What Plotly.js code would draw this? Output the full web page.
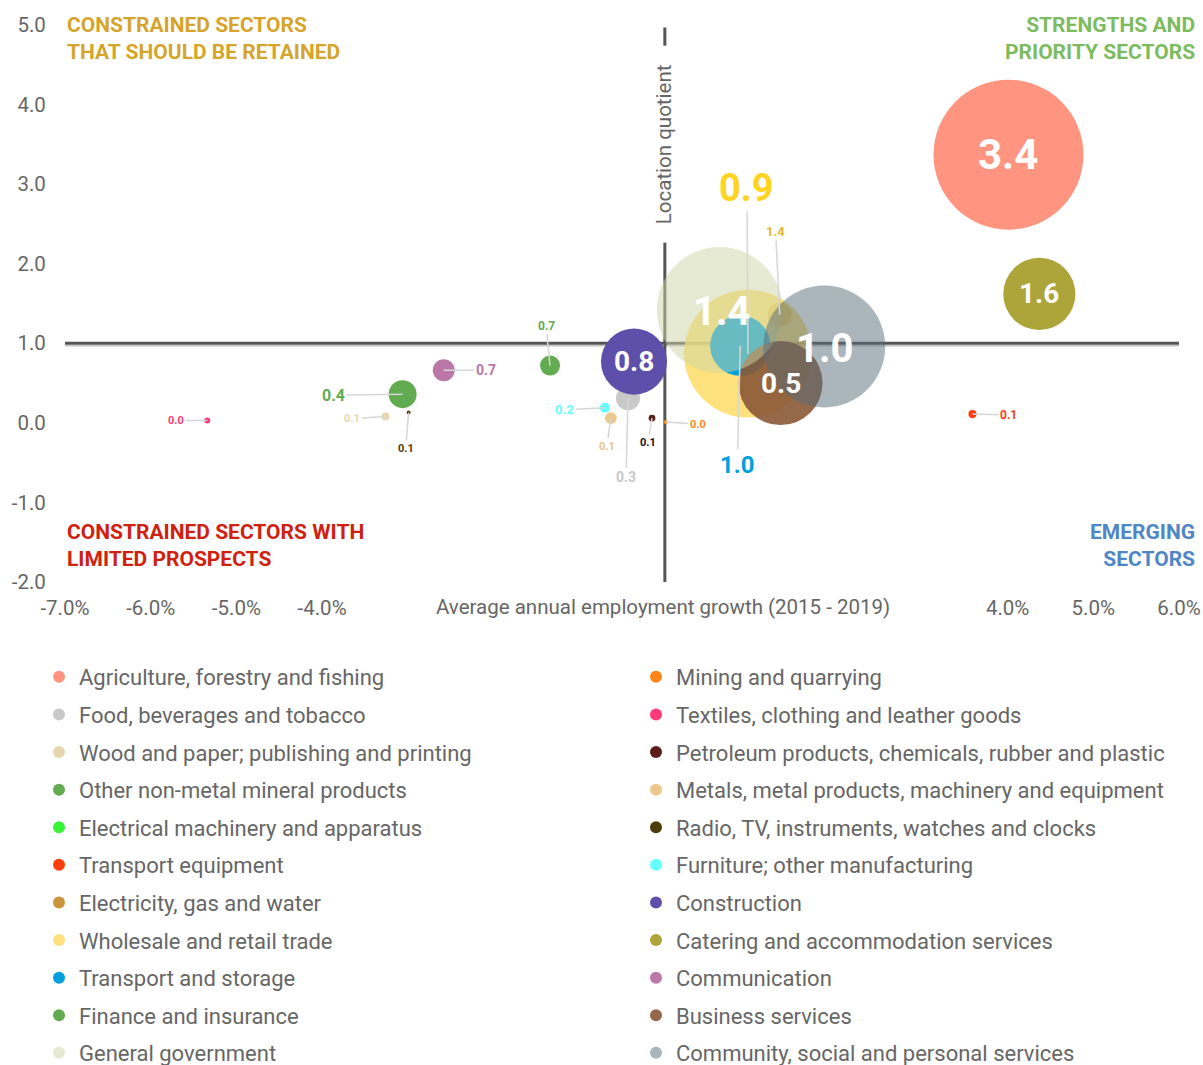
<!DOCTYPE html>
<html>
<head>
<meta charset="utf-8">
<script src="https://cdn.plot.ly/plotly-3.0.1.min.js"></script>
<style>
  body { margin: 0; background: #fff; }
  #chart { width: 1203px; height: 1065px; }
</style>
</head>
<body>
<div id="chart"></div>
<script>
// sectors in legend order (read row by row: left column, right column)
const sectors = [
  'Agriculture, forestry and fishing', 'Mining and quarrying',
  'Food, beverages and tobacco', 'Textiles, clothing and leather goods',
  'Wood and paper; publishing and printing', 'Petroleum products, chemicals, rubber and plastic',
  'Other non-metal mineral products', 'Metals, metal products, machinery and equipment',
  'Electrical machinery and apparatus', 'Radio, TV, instruments, watches and clocks',
  'Transport equipment', 'Furniture; other manufacturing',
  'Electricity, gas and water', 'Construction',
  'Wholesale and retail trade', 'Catering and accommodation services',
  'Transport and storage', 'Communication',
  'Finance and insurance', 'Business services',
  'General government', 'Community, social and personal services'
];

// average annual employment growth 2015-2019 (%)
const growth = [
  4.01, 0.01,
  -0.43, -5.34,
  -3.26, -0.15,
  -3.06, -0.63,
  null, -2.99,
  3.59, -0.70,
  1.34, -0.36,
  0.97, 4.37,
  0.88, -2.58,
  -1.34, 1.35,
  0.64, 1.86
];

// location quotient (also the bubble label)
const locationQuotient = [
  3.37, 0.01,
  0.31, 0.03,
  0.08, 0.06,
  0.36, 0.06,
  null, 0.13,
  0.11, 0.19,
  1.36, 0.77,
  0.87, 1.62,
  0.97, 0.66,
  0.72, 0.50,
  1.42, 0.96
];

// share of employment (%), sets bubble area
const employmentShare = [
  24.2, 0.01,
  0.62, 0.04,
  0.07, 0.05,
  0.84, 0.15,
  0.01, 0.01,
  0.07, 0.11,
  0.62, 4.7,
  17.6, 5.6,
  3.9, 0.52,
  0.43, 7.6,
  17.0, 16.0
];

const colors = [
  '#ff9580', '#ff8519',
  '#c9c9c9', '#ff3a78',
  '#e5d8b0', '#5b1f1b',
  '#62ab50', '#ecc88e',
  '#3af43a', '#4a3d08',
  '#ff3d0a', '#66ffff',
  '#c9963f', '#5e4fab',
  'rgba(252,217,92,0.8)', '#ada43a',
  '#00a0dc', '#ba77a8',
  '#62ab50', 'rgba(138,88,54,0.9)',
  'rgba(205,213,165,0.5)', 'rgba(85,108,122,0.5)'
];

// label placement: [offset x px, offset y px, font size, colour]; near 0,0 = inside the bubble
const labelPlacement = [
  [0, 0, 42, '#fff'], [32, 2, 11, '#ff8519'],
  [-2, 79, 14, '#c8c8c8'], [-31, 0, 11, '#ff3a78'],
  [-33, 2, 11, '#e5d8b0'], [-4, 24, 11, '#111'],
  [-69, 1, 16, '#62ab50'], [-4, 28, 11, '#e8c48c'],
  [0, 0, 11, '#3af43a'], [-3, 36, 11, '#4a3d08'],
  [36, 1, 12, '#ff3d0a'], [-40, 2, 13, '#66ffff'],
  [-4, -83, 13, '#e8b52a'], [0, 0, 28, '#fff'],
  [-1, -166, 38, '#ffd320'], [0, 0, 28, '#fff'],
  [-3, 119, 24, '#00a0dc'], [42, 0, 14, '#ba77a8'],
  [-4, -40, 12, '#62ab50'], [0, 0, 28, '#fff'],
  [2, 2, 40, '#fff'], [1, 2, 40, '#fff']
];

const xTicks = [-7, -6, -5, -4, 4, 5, 6];
const yTicks = [-2, -1, 0, 1, 2, 3, 4, 5];

const maxShare = Math.max(...employmentShare);
const sizeref = 2 * maxShare / (150 * 150);

const traces = sectors.map((name, i) => ({
  type: 'scatter',
  mode: 'markers',
  name: name,
  legend: i % 2 === 0 ? 'legend' : 'legend2',
  legendgroup: 'g' + i,
  x: [growth[i]],
  y: [locationQuotient[i]],
  marker: {
    size: [employmentShare[i]],
    sizemode: 'area',
    sizeref: sizeref,
    sizemin: 2,
    opacity: 1,
    color: colors[i],
    line: { width: 0 }
  },
  hoverinfo: 'name'
}));

const font = 'Roboto, sans-serif';
const annotations = [];

sectors.forEach((name, i) => {
  if (locationQuotient[i] == null) return;
  const p = labelPlacement[i];
  const inside = Math.abs(p[0]) < 5 && Math.abs(p[1]) < 5;
  annotations.push({
    x: growth[i], y: locationQuotient[i],
    text: locationQuotient[i].toFixed(1),
    showarrow: !inside,
    ax: p[0], ay: p[1],
    xshift: inside ? p[0] : 0, yshift: inside ? -p[1] : 0,
    arrowhead: 0, arrowwidth: 1.5, arrowcolor: '#d6d6d6', standoff: 0,
    font: { family: font, size: p[2], color: p[3], weight: 'bold' }
  });
});

// quadrant titles
const quad = { family: font, size: 21, weight: 'bold' };
annotations.push(
  { xref: 'paper', yref: 'paper', x: 0, y: 0.976, xanchor: 'left', yanchor: 'middle', align: 'left', showarrow: false,
    text: 'CONSTRAINED SECTORS<br>THAT SHOULD BE RETAINED', font: Object.assign({ color: '#d4a52a' }, quad) },
  { xref: 'paper', yref: 'paper', x: 1.016, y: 0.976, xanchor: 'right', yanchor: 'middle', align: 'right', showarrow: false,
    text: 'STRENGTHS AND<br>PRIORITY SECTORS', font: Object.assign({ color: '#7dbb5f' }, quad) },
  { xref: 'paper', yref: 'paper', x: 0, y: 0.0655, xanchor: 'left', yanchor: 'middle', align: 'left', showarrow: false,
    text: 'CONSTRAINED SECTORS WITH<br>LIMITED PROSPECTS', font: Object.assign({ color: '#d0210f' }, quad) },
  { xref: 'paper', yref: 'paper', x: 1.016, y: 0.0655, xanchor: 'right', yanchor: 'middle', align: 'right', showarrow: false,
    text: 'EMERGING<br>SECTORS', font: Object.assign({ color: '#4f86c6' }, quad) }
);

// axis titles sitting on the axes
annotations.push(
  { x: 0, y: 3.5, textangle: -90, showarrow: false, text: 'Location quotient',
    bgcolor: '#fff', borderpad: 18, font: { family: font, size: 20.5, color: '#666' } },
  { x: -0.02, yref: 'paper', y: -0.045, yanchor: 'middle', showarrow: false,
    text: 'Average annual employment growth (2015 - 2019)', font: { family: font, size: 20.5, color: '#666' } }
);

const legendBase = {
  xref: 'container', yref: 'container', y: 0.384, xanchor: 'left', yanchor: 'top',
  orientation: 'v', itemsizing: 'constant', itemwidth: 30,
  traceorder: 'grouped', tracegroupgap: 6,
  font: { family: font, size: 22, color: '#666' }
};

const layout = {
  width: 1203, height: 1065,
  margin: { l: 65, r: 24, t: 25, b: 483, autoexpand: false },
  paper_bgcolor: '#fff', plot_bgcolor: '#fff',
  font: { family: font, color: '#666' },
  xaxis: {
    range: [-7, 6], showgrid: false, zeroline: false, showline: false,
    tickvals: xTicks, ticktext: xTicks.map(v => v.toFixed(1) + '%'),
    ticks: 'outside', ticklen: 7, tickcolor: 'rgba(0,0,0,0)',
    tickfont: { family: font, size: 20.5, color: '#666' }
  },
  yaxis: {
    range: [-2, 5], showgrid: false, zeroline: false, showline: false,
    tickvals: yTicks, ticktext: yTicks.map(v => v.toFixed(1)),
    ticks: 'outside', ticklen: 14, tickcolor: 'rgba(0,0,0,0)',
    tickfont: { family: font, size: 20.5, color: '#666' }
  },
  shapes: [
    { type: 'line', layer: 'below', xref: 'paper', x0: 0, x1: 1, yref: 'y', ysizemode: 'pixel', yanchor: 1,
      y0: -2.5, y1: -2.5, line: { color: '#c4c4c4', width: 1.5 } },
    { type: 'line', layer: 'below', xref: 'paper', x0: 0, x1: 1, yref: 'y', y0: 1, y1: 1,
      line: { color: '#555', width: 3 } },
    { type: 'line', layer: 'below', xref: 'x', x0: 0, x1: 0, yref: 'y', y0: -2, y1: 4.97,
      line: { color: '#555', width: 3 } }
  ],
  annotations: annotations,
  showlegend: true,
  legend: Object.assign({ x: 39 / 1203 }, legendBase),
  legend2: Object.assign({ x: 636 / 1203 }, legendBase)
};

Plotly.newPlot('chart', traces, layout, { displayModeBar: false, staticPlot: true });
</script>
</body>
</html>
